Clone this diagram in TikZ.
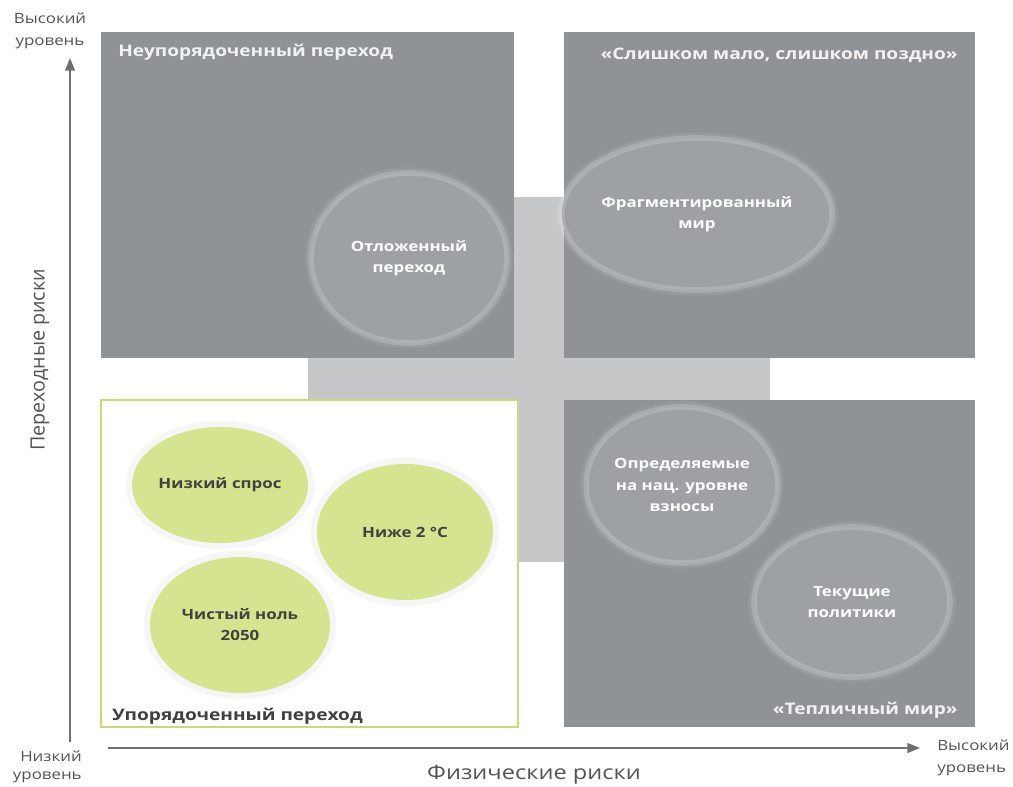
\documentclass[tikz,border=0pt]{standalone}
\usepackage{fontspec}
\setmainfont{Open Sans}[FakeStretch=1.2]
\newfontfamily\hochfont{Open Sans}
\usetikzlibrary{positioning, shapes.geometric, arrows.meta}
\definecolor{feldgrau}{HTML}{8F9396}
\definecolor{kreuzgrau}{HTML}{C5C7C9}
\definecolor{kreisgrau}{HTML}{9DA1A4}
\definecolor{gruen}{HTML}{D5E48F}
\definecolor{rahmen}{HTML}{C9D97C}
\definecolor{achsgrau}{HTML}{6F6F6F}
\definecolor{schrift}{HTML}{404040}
\tikzset{feld/.style={fill=feldgrau},
	titel/.style={text=white!95!black, font=\bfseries\fontsize{11.3}{14}\selectfont, inner sep=0},
	kreis/.style={ellipse, fill=kreisgrau, draw=white, draw opacity=0.18, line width=4pt,
		preaction={draw=white, draw opacity=0.07, line width=8pt},
		text=white, font=\bfseries\fontsize{10}{15}\selectfont, align=center, inner sep=0},
	blase/.style={ellipse, fill=gruen, preaction={draw=black, draw opacity=0.035, line width=9pt},
		text=schrift, font=\bfseries\fontsize{10}{15}\selectfont, align=center, inner sep=0},
	achse/.style={draw=achsgrau, line width=1.2pt, -{Triangle[length=9pt, width=7pt]}},
	stufe/.style={text=schrift!90, font=\fontsize{10}{16}\selectfont, inner sep=0} }

\begin{document}
\begin{tikzpicture}[x=0.025cm, y=-0.025cm]
	\useasboundingbox (0,0) rectangle (1013,787);

	% Kreuz hinter den Feldern
	\fill[kreuzgrau] (308,197) rectangle (770,562);

	\fill[feld] (101,32) rectangle (514,358);
	\fill[feld] (564,32) rectangle (975,358);
	\fill[feld] (564,400) rectangle (975,727);
	\filldraw[fill=white, draw=rahmen, line width=1pt] (101,400) rectangle (518,727);

	\node (t1) [titel, anchor=west] at (118,52) {Неупорядоченный переход};
	\node (t2) [titel, anchor=east] at (958,55) {«Слишком мало, слишком поздно»};
	\node (t3) [titel, anchor=east] at (958,710) {«Тепличный мир»};
	\node (t4) [titel, text=schrift, anchor=west] at (112,716) {Упорядоченный переход};

	\node (k1) [kreis, minimum width=4.9cm, minimum height=4.25cm] at (409,258) {Отложенный\\переход};
	\node (k2) [kreis, minimum width=5.6cm, minimum height=3.8cm] at (697,214) {Фрагментированный\\мир};
	\node (k3) [kreis, minimum width=4.6cm, minimum height=3.9cm] at (682,485) {Определяемые\\на нац. уровне\\взносы};
	\node (k4) [kreis, minimum width=4.9cm, minimum height=3.75cm] at (852,602) {Текущие\\политики};

	\node (b1) [blase, minimum width=4.4cm, minimum height=2.9cm] at (220,485) {Низкий спрос};
	\node (b2) [blase, minimum width=4.4cm, minimum height=3.4cm] at (405,532) {Ниже 2 °C};
	\node (b3) [blase, minimum width=4.5cm, minimum height=3.4cm] at (240,625) {Чистый ноль\\2050};

	% Achsen
	\coordinate (yfuss) at (70,742);
	\coordinate (yspitze) at (70,58);
	\coordinate (xfuss) at (108,748);
	\coordinate (xspitze) at (920,748);
	\draw[achse] (yfuss) -- (yspitze);
	\draw[achse] (xfuss) -- (xspitze);

	\node (hoch1) [stufe, align=center] at (50,31) {Высокий\\уровень};
	\node (tief) [stufe, font=\fontsize{10}{13}\selectfont, align=right, anchor=east] at (82,767) {Низкий\\уровень};
	\node (hoch2) [stufe, align=left, anchor=west] at (937,758) {Высокий\\уровень};
	\node (xname) [text=schrift!90, font=\fontsize{14}{16}\selectfont] at (534,775) {Физические риски};
	\node (yname) [text=schrift!90, font=\hochfont\fontsize{14}{16}\selectfont, rotate=90] at (40,360) {Переходные риски};
\end{tikzpicture}
\end{document}
